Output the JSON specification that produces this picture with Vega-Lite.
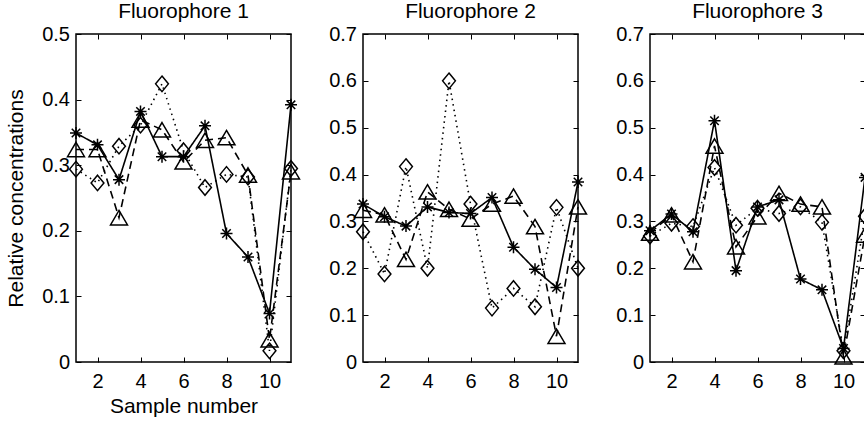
{
  "$schema": "https://vega.github.io/schema/vega-lite/v6.json",
  "padding": {"left": 4, "top": 0, "right": 0, "bottom": 0},
  "background": "white",
  "spacing": 72,
  "bounds": "flush",
  "config": {
    "font": "Liberation Sans",
    "view": {"stroke": "black", "strokeWidth": 1.5},
    "axis": {"domain": false, "grid": false, "tickColor": "black", "tickSize": -5, "tickWidth": 1, "labelFont": "Liberation Sans", "labelFontSize": 20, "labelColor": "black", "titleFont": "Liberation Sans", "titleFontSize": 21, "titleFontWeight": "normal", "titleColor": "black"},
    "axisX": {"labelPadding": 14, "titlePadding": 4},
    "axisY": {"labelPadding": 11.5, "titlePadding": 15},
    "title": {"font": "Liberation Sans", "fontSize": 21, "fontWeight": "normal", "color": "black", "baseline": "alphabetic", "offset": 2}
  },
  "data": {"values": [
    {"p":1,"s":1,"series":"star","v":0.349},{"p":1,"s":2,"series":"star","v":0.331},{"p":1,"s":3,"series":"star","v":0.278},{"p":1,"s":4,"series":"star","v":0.382},{"p":1,"s":5,"series":"star","v":0.313},{"p":1,"s":6,"series":"star","v":0.313},{"p":1,"s":7,"series":"star","v":0.360},{"p":1,"s":8,"series":"star","v":0.196},{"p":1,"s":9,"series":"star","v":0.160},{"p":1,"s":10,"series":"star","v":0.074},{"p":1,"s":11,"series":"star","v":0.392},
    {"p":1,"s":1,"series":"tri","v":0.324},{"p":1,"s":2,"series":"tri","v":0.324},{"p":1,"s":3,"series":"tri","v":0.220},{"p":1,"s":4,"series":"tri","v":0.369},{"p":1,"s":5,"series":"tri","v":0.354},{"p":1,"s":6,"series":"tri","v":0.305},{"p":1,"s":7,"series":"tri","v":0.338},{"p":1,"s":8,"series":"tri","v":0.342},{"p":1,"s":9,"series":"tri","v":0.285},{"p":1,"s":10,"series":"tri","v":0.034},{"p":1,"s":11,"series":"tri","v":0.290},
    {"p":1,"s":1,"series":"dia","v":0.294},{"p":1,"s":2,"series":"dia","v":0.273},{"p":1,"s":3,"series":"dia","v":0.329},{"p":1,"s":4,"series":"dia","v":0.361},{"p":1,"s":5,"series":"dia","v":0.424},{"p":1,"s":6,"series":"dia","v":0.322},{"p":1,"s":7,"series":"dia","v":0.266},{"p":1,"s":8,"series":"dia","v":0.286},{"p":1,"s":9,"series":"dia","v":0.282},{"p":1,"s":10,"series":"dia","v":0.017},{"p":1,"s":11,"series":"dia","v":0.295},
    {"p":2,"s":1,"series":"star","v":0.337},{"p":2,"s":2,"series":"star","v":0.310},{"p":2,"s":3,"series":"star","v":0.290},{"p":2,"s":4,"series":"star","v":0.331},{"p":2,"s":5,"series":"star","v":0.319},{"p":2,"s":6,"series":"star","v":0.317},{"p":2,"s":7,"series":"star","v":0.351},{"p":2,"s":8,"series":"star","v":0.245},{"p":2,"s":9,"series":"star","v":0.198},{"p":2,"s":10,"series":"star","v":0.159},{"p":2,"s":11,"series":"star","v":0.384},
    {"p":2,"s":1,"series":"tri","v":0.324},{"p":2,"s":2,"series":"tri","v":0.314},{"p":2,"s":3,"series":"tri","v":0.219},{"p":2,"s":4,"series":"tri","v":0.363},{"p":2,"s":5,"series":"tri","v":0.326},{"p":2,"s":6,"series":"tri","v":0.305},{"p":2,"s":7,"series":"tri","v":0.337},{"p":2,"s":8,"series":"tri","v":0.354},{"p":2,"s":9,"series":"tri","v":0.289},{"p":2,"s":10,"series":"tri","v":0.055},{"p":2,"s":11,"series":"tri","v":0.331},
    {"p":2,"s":1,"series":"dia","v":0.278},{"p":2,"s":2,"series":"dia","v":0.188},{"p":2,"s":3,"series":"dia","v":0.417},{"p":2,"s":4,"series":"dia","v":0.200},{"p":2,"s":5,"series":"dia","v":0.600},{"p":2,"s":6,"series":"dia","v":0.337},{"p":2,"s":7,"series":"dia","v":0.115},{"p":2,"s":8,"series":"dia","v":0.157},{"p":2,"s":9,"series":"dia","v":0.118},{"p":2,"s":10,"series":"dia","v":0.330},{"p":2,"s":11,"series":"dia","v":0.200},
    {"p":3,"s":1,"series":"star","v":0.280},{"p":3,"s":2,"series":"star","v":0.316},{"p":3,"s":3,"series":"star","v":0.278},{"p":3,"s":4,"series":"star","v":0.515},{"p":3,"s":5,"series":"star","v":0.195},{"p":3,"s":6,"series":"star","v":0.331},{"p":3,"s":7,"series":"star","v":0.346},{"p":3,"s":8,"series":"star","v":0.177},{"p":3,"s":9,"series":"star","v":0.154},{"p":3,"s":10,"series":"star","v":0.029},{"p":3,"s":11,"series":"star","v":0.394},
    {"p":3,"s":1,"series":"tri","v":0.275},{"p":3,"s":2,"series":"tri","v":0.314},{"p":3,"s":3,"series":"tri","v":0.214},{"p":3,"s":4,"series":"tri","v":0.461},{"p":3,"s":5,"series":"tri","v":0.246},{"p":3,"s":6,"series":"tri","v":0.310},{"p":3,"s":7,"series":"tri","v":0.360},{"p":3,"s":8,"series":"tri","v":0.337},{"p":3,"s":9,"series":"tri","v":0.331},{"p":3,"s":10,"series":"tri","v":0.011},{"p":3,"s":11,"series":"tri","v":0.271},
    {"p":3,"s":1,"series":"dia","v":0.269},{"p":3,"s":2,"series":"dia","v":0.296},{"p":3,"s":3,"series":"dia","v":0.289},{"p":3,"s":4,"series":"dia","v":0.415},{"p":3,"s":5,"series":"dia","v":0.292},{"p":3,"s":6,"series":"dia","v":0.328},{"p":3,"s":7,"series":"dia","v":0.317},{"p":3,"s":8,"series":"dia","v":0.331},{"p":3,"s":9,"series":"dia","v":0.298},{"p":3,"s":10,"series":"dia","v":0.024},{"p":3,"s":11,"series":"dia","v":0.311}
  ]},
  "hconcat": [
    {
      "width": 215, "height": 328,
      "title": "Fluorophore 1",
      "transform": [{"filter": "datum.p == 1"}],
      "layer": [
        {"mark": {"type": "line", "color": "black", "strokeWidth": 1.6},
         "encoding": {
           "x": {"field": "s", "type": "quantitative", "scale": {"domain": [1, 11], "nice": false, "zero": false}, "axis": {"values": [2, 4, 6, 8, 10], "title": "Sample number"}},
           "y": {"field": "v", "type": "quantitative", "scale": {"domain": [0, 0.5], "nice": false}, "axis": {"values": [0, 0.1, 0.2, 0.3, 0.4, 0.5], "format": "~g", "title": "Relative concentrations"}},
           "strokeDash": {"field": "series", "type": "nominal", "scale": {"domain": ["star", "tri", "dia"], "range": [[1, 0], [8, 5], [1.5, 4]]}, "legend": null}
         }},
        {"mark": {"type": "point", "filled": false, "color": "black", "strokeWidth": 1.5, "size": 256, "opacity": 1},
         "encoding": {
           "x": {"field": "s", "type": "quantitative", "axis": null},
           "y": {"field": "v", "type": "quantitative", "axis": null},
           "shape": {"field": "series", "type": "nominal", "scale": {"domain": ["star", "tri", "dia"], "range": ["M-0.75,0L0.75,0M0,-0.75L0,0.75M-0.53,-0.53L0.53,0.53M-0.53,0.53L0.53,-0.53", "M0,-0.9L1.06,0.9L-1.06,0.9Z", "M0,-0.97L0.8,0L0,0.97L-0.8,0Z"]}, "legend": null}
         }},
        {"mark": {"type": "point", "opacity": 0},
         "encoding": {
           "x": {"field": "s", "type": "quantitative", "axis": {"orient": "top", "values": [2, 4, 6, 8, 10], "labels": false, "title": null}},
           "y": {"field": "v", "type": "quantitative", "axis": {"orient": "right", "values": [0, 0.1, 0.2, 0.3, 0.4, 0.5], "labels": false, "title": null}}
         }}
      ],
      "resolve": {"axis": {"x": "independent", "y": "independent"}}
    },
    {
      "width": 215, "height": 328,
      "title": "Fluorophore 2",
      "transform": [{"filter": "datum.p == 2"}],
      "layer": [
        {"mark": {"type": "line", "color": "black", "strokeWidth": 1.6},
         "encoding": {
           "x": {"field": "s", "type": "quantitative", "scale": {"domain": [1, 11], "nice": false, "zero": false}, "axis": {"values": [2, 4, 6, 8, 10], "title": null}},
           "y": {"field": "v", "type": "quantitative", "scale": {"domain": [0, 0.7], "nice": false}, "axis": {"values": [0, 0.1, 0.2, 0.3, 0.4, 0.5, 0.6, 0.7], "format": "~g", "title": null}},
           "strokeDash": {"field": "series", "type": "nominal", "scale": {"domain": ["star", "tri", "dia"], "range": [[1, 0], [8, 5], [1.5, 4]]}, "legend": null}
         }},
        {"mark": {"type": "point", "filled": false, "color": "black", "strokeWidth": 1.5, "size": 256, "opacity": 1},
         "encoding": {
           "x": {"field": "s", "type": "quantitative", "axis": null},
           "y": {"field": "v", "type": "quantitative", "axis": null},
           "shape": {"field": "series", "type": "nominal", "scale": {"domain": ["star", "tri", "dia"], "range": ["M-0.75,0L0.75,0M0,-0.75L0,0.75M-0.53,-0.53L0.53,0.53M-0.53,0.53L0.53,-0.53", "M0,-0.9L1.06,0.9L-1.06,0.9Z", "M0,-0.97L0.8,0L0,0.97L-0.8,0Z"]}, "legend": null}
         }},
        {"mark": {"type": "point", "opacity": 0},
         "encoding": {
           "x": {"field": "s", "type": "quantitative", "axis": {"orient": "top", "values": [2, 4, 6, 8, 10], "labels": false, "title": null}},
           "y": {"field": "v", "type": "quantitative", "axis": {"orient": "right", "values": [0, 0.1, 0.2, 0.3, 0.4, 0.5, 0.6, 0.7], "labels": false, "title": null}}
         }}
      ],
      "resolve": {"axis": {"x": "independent", "y": "independent"}}
    },
    {
      "width": 215, "height": 328,
      "title": "Fluorophore 3",
      "transform": [{"filter": "datum.p == 3"}],
      "layer": [
        {"mark": {"type": "line", "color": "black", "strokeWidth": 1.6},
         "encoding": {
           "x": {"field": "s", "type": "quantitative", "scale": {"domain": [1, 11], "nice": false, "zero": false}, "axis": {"values": [2, 4, 6, 8, 10], "title": null}},
           "y": {"field": "v", "type": "quantitative", "scale": {"domain": [0, 0.7], "nice": false}, "axis": {"values": [0, 0.1, 0.2, 0.3, 0.4, 0.5, 0.6, 0.7], "format": "~g", "title": null}},
           "strokeDash": {"field": "series", "type": "nominal", "scale": {"domain": ["star", "tri", "dia"], "range": [[1, 0], [8, 5], [1.5, 4]]}, "legend": null}
         }},
        {"mark": {"type": "point", "filled": false, "color": "black", "strokeWidth": 1.5, "size": 256, "opacity": 1},
         "encoding": {
           "x": {"field": "s", "type": "quantitative", "axis": null},
           "y": {"field": "v", "type": "quantitative", "axis": null},
           "shape": {"field": "series", "type": "nominal", "scale": {"domain": ["star", "tri", "dia"], "range": ["M-0.75,0L0.75,0M0,-0.75L0,0.75M-0.53,-0.53L0.53,0.53M-0.53,0.53L0.53,-0.53", "M0,-0.9L1.06,0.9L-1.06,0.9Z", "M0,-0.97L0.8,0L0,0.97L-0.8,0Z"]}, "legend": null}
         }},
        {"mark": {"type": "point", "opacity": 0},
         "encoding": {
           "x": {"field": "s", "type": "quantitative", "axis": {"orient": "top", "values": [2, 4, 6, 8, 10], "labels": false, "title": null}},
           "y": {"field": "v", "type": "quantitative", "axis": {"orient": "right", "values": [0, 0.1, 0.2, 0.3, 0.4, 0.5, 0.6, 0.7], "labels": false, "title": null}}
         }}
      ],
      "resolve": {"axis": {"x": "independent", "y": "independent"}}
    }
  ]
}
